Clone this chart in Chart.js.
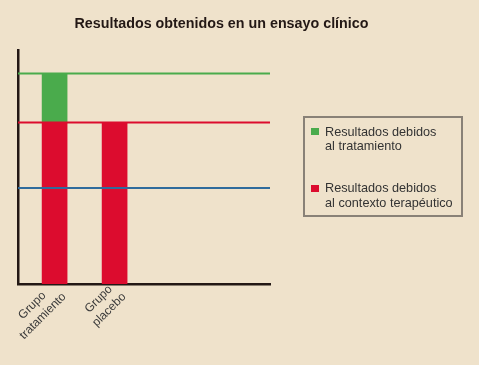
<!DOCTYPE html>
<html>
<head>
<meta charset="utf-8">
<script src="https://cdn.jsdelivr.net/npm/chart.js@4/dist/chart.umd.min.js"></script>
<style>
  body { margin: 0; background: #efe2cb; }
  #wrap { position: relative; width: 479px; height: 365px; background: #efe2cb; }
  #title {
    position: absolute; left: 0; width: 443px; top: 14.5px; text-align: center;
    font: bold 14.3px/16px "Liberation Sans", Arial, sans-serif; color: #231815;
  }
  #legend {
    position: absolute; left: 303px; top: 116px; width: 160px; height: 101px;
    box-sizing: border-box; border: 2px solid #898177;
    font: 12.7px "Liberation Sans", Arial, sans-serif; color: #333;
  }
  .item { position: absolute; left: 20px; line-height: 14.4px; white-space: nowrap; }
  .sw { position: absolute; left: -14px; top: 3.2px; width: 8px; height: 7.5px; }
</style>
</head>
<body>
<div id="wrap">
  <canvas id="chart" width="479" height="365"></canvas>
  <div id="title">Resultados obtenidos en un ensayo clínico</div>
  <div id="legend"></div>
</div>
<script>
// =====================
// Data
// =====================
const groups = [['Grupo', 'tratamiento'], ['Grupo', 'placebo']];
const groupPos = [1, 2];
const contexto = [69, 69];      // red part
const tratamiento = [21, 0];    // green part on top
const levelTratamiento = 90;    // green line
const levelContexto = 69;       // red line
const levelBase = 41;           // blue line
const seriesNames = ['Resultados debidos\nal tratamiento', 'Resultados debidos\nal contexto terapéutico'];

const GREEN = '#4aab4c';
const RED = '#dc0c2e';
const BLUE = '#2f6b9c';
const AXIS = '#231815';
const X_MIN = 0.39, X_MAX = 4.59;

const hline = (y, color, stack) => ({
  type: 'line',
  data: [{ x: X_MIN, y: y }, { x: X_MAX, y: y }],
  borderColor: color,
  borderWidth: 2,
  pointRadius: 0,
  stack: stack,
  order: 0
});

// Rotated two-line group labels, lines centered on each other
const groupLabels = {
  id: 'groupLabels',
  afterDraw(chart) {
    const ctx = chart.ctx;
    const x = chart.scales.x;
    ctx.save();
    ctx.font = '12px "Liberation Sans", Arial, sans-serif';
    ctx.fillStyle = '#3a3a3a';
    ctx.textAlign = 'center';
    ctx.textBaseline = 'middle';
    groups.forEach((lines, i) => {
      const w = Math.max(...lines.map(t => ctx.measureText(t).width));
      ctx.save();
      ctx.translate(x.getPixelForValue(groupPos[i]), x.top);
      ctx.rotate(-Math.PI / 4);
      lines.forEach((t, j) => ctx.fillText(t, -1 - w / 2, -0.5 + j * 15));
      ctx.restore();
    });
    ctx.restore();
  }
};

new Chart(document.getElementById('chart'), {
  type: 'bar',
  data: {
    datasets: [
      {
        label: seriesNames[1],
        data: groupPos.map((x, i) => ({ x: x, y: contexto[i] })),
        backgroundColor: RED,
        barThickness: 25,
        order: 1
      },
      {
        label: seriesNames[0],
        data: groupPos.map((x, i) => ({ x: x, y: tratamiento[i] })),
        backgroundColor: GREEN,
        barThickness: 25,
        order: 1
      },
      hline(levelBase, BLUE, 'l1'),
      hline(levelContexto, RED, 'l2'),
      hline(levelTratamiento, GREEN, 'l3')
    ]
  },
  options: {
    responsive: false,
    animation: false,
    layout: { padding: { top: 50, right: 209, left: 0, bottom: 0 } },
    plugins: { legend: { display: false }, title: { display: false }, tooltip: { enabled: false } },
    scales: {
      x: {
        type: 'linear',
        min: X_MIN,
        max: X_MAX,
        offset: false,
        stacked: true,
        grid: { display: false },
        border: { display: true, color: AXIS, width: 2.5 },
        ticks: { display: false },
        afterFit: (s) => { s.height = 81; }
      },
      y: {
        min: 0,
        max: 100,
        stacked: true,
        grid: { display: false },
        ticks: { display: false },
        border: { display: true, color: AXIS, width: 2.5 },
        afterFit: (s) => { s.width = 18; }
      }
    }
  },
  plugins: [groupLabels]
});

// =====================
// Legend (HTML)
// =====================
const legend = document.getElementById('legend');
[[GREEN, seriesNames[0], 6.8], [RED, seriesNames[1], 63.4]].forEach(([c, txt, top]) => {
  const d = document.createElement('div');
  d.className = 'item';
  d.style.top = top + 'px';
  d.innerHTML = '<span class="sw" style="background:' + c + '"></span>' + txt.replace('\n', '<br>');
  legend.appendChild(d);
});
</script>
</body>
</html>
